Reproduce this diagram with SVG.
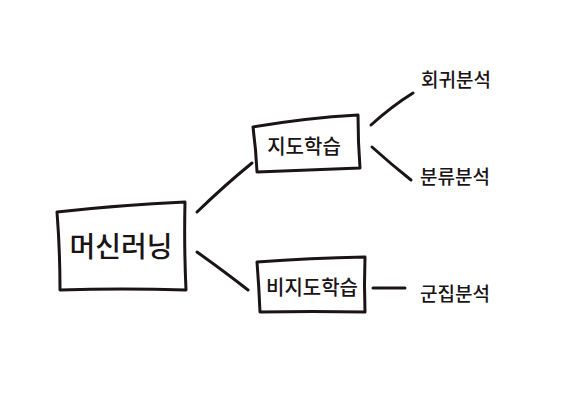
<svg xmlns="http://www.w3.org/2000/svg" width="580" height="415" viewBox="0 0 580 415">
<style>
.box{fill:none;stroke:#1a1416;stroke-width:3;stroke-linejoin:round;stroke-linecap:round}
.ln{fill:none;stroke:#1a1416;stroke-width:3;stroke-linecap:round}
text{font-family:"Noto Sans CJK KR","Noto Sans",sans-serif;fill:#1a1416;text-anchor:middle;dominant-baseline:central;font-weight:500}
</style>
<rect width="580" height="415" fill="#ffffff"/>
<g id="connectors">
<path class="ln" d="M197,212 Q225,185 252,163"/>
<path class="ln" d="M197,252 Q225,272 248,290"/>
<path class="ln" d="M371,125 Q392,106 413,93"/>
<path class="ln" d="M372,147 Q392,165 411,180"/>
<path class="ln" d="M373,288 L405,288"/>
</g>
<g id="n-ml">
<path class="box" d="M57,212 Q120,205 185,202 Q184,247 186,290 Q122,288 60,290 Q60,250 57,212 Z"/>
<text x="121" y="245" font-size="28">머신러닝</text>
</g>
<g id="n-sup">
<path class="box" d="M253,127 Q305,118 358,115 Q358,142 360,168 Q308,170 257,172 Q256,150 253,127 Z"/>
<text x="304" y="145" font-size="20">지도학습</text>
</g>
<g id="n-unsup">
<path class="box" d="M257,262 Q310,258 365,257 Q364,285 365,312 Q312,311 260,312 Q259,287 257,262 Z"/>
<text x="312" y="286" font-size="20">비지도학습</text>
</g>
<g id="n-reg">
<text x="456" y="78" font-size="19">회귀분석</text>
</g>
<g id="n-cls">
<text x="455" y="175" font-size="19">분류분석</text>
</g>
<g id="n-clu">
<text x="455" y="292" font-size="19">군집분석</text>
</g>
</svg>
